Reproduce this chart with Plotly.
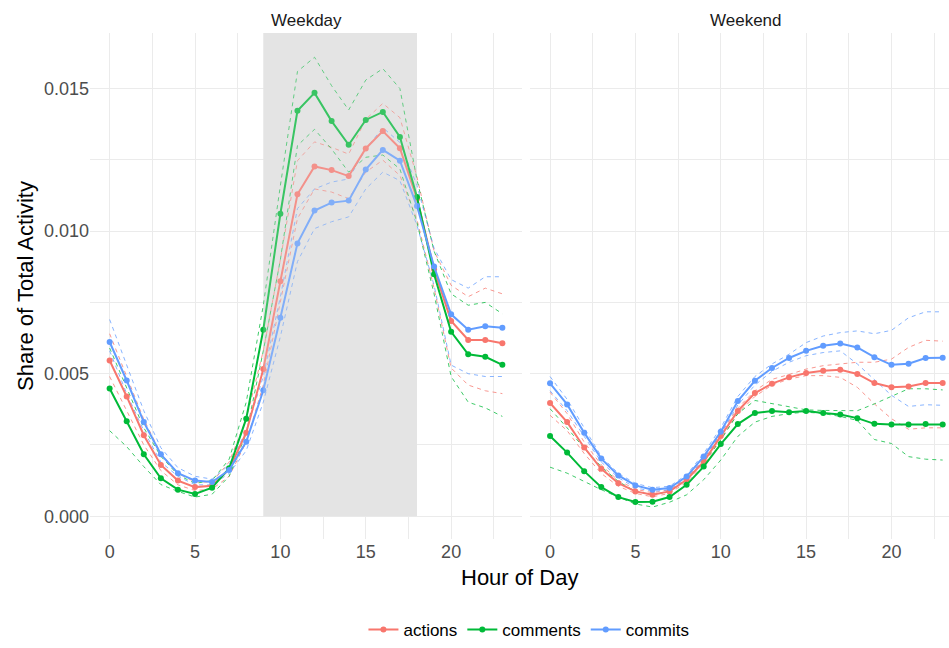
import plotly.graph_objects as go

HOURS = list(range(24))
SERIES = ["actions", "comments", "commits"]
COLORS = {"actions": "#F8766D", "comments": "#00BA38", "commits": "#619CFF"}
PANELS = ["Weekday", "Weekend"]
X_TICKS = [0, 5, 10, 15, 20]
Y_TICKS = [0.0, 0.005, 0.010, 0.015]
WORK_HOURS = [9, 18]

# ---------------- Weekday ----------------
wd_actions_mean = [0.00546, 0.0042, 0.00284, 0.0018, 0.00125, 0.00102, 0.00107, 0.00165, 0.00293, 0.00516,
                   0.00824, 0.01129, 0.01227, 0.01214, 0.01193, 0.0129, 0.01351, 0.01291, 0.01114, 0.00866,
                   0.00685, 0.00618, 0.00618, 0.00607]
wd_actions_hi = [0.0064, 0.0049, 0.0034, 0.0022, 0.0015, 0.0012, 0.0012, 0.0019, 0.0034, 0.0058,
                 0.0090, 0.01247, 0.01313, 0.01294, 0.0127, 0.01392, 0.01448, 0.01398, 0.0119, 0.0093,
                 0.0081, 0.0077, 0.0080, 0.0078]
wd_actions_lo = [0.0049, 0.0037, 0.0025, 0.0016, 0.0011, 0.0009, 0.00095, 0.0014, 0.0026, 0.0046,
                 0.0075, 0.01044, 0.01148, 0.01137, 0.01114, 0.01207, 0.01249, 0.01195, 0.0104, 0.0080,
                 0.0052, 0.0046, 0.0044, 0.0043]

wd_comments_mean = [0.00448, 0.00333, 0.00217, 0.00133, 0.00093, 0.00078, 0.001, 0.00168, 0.00342, 0.00654,
                    0.01061, 0.01422, 0.01485, 0.01386, 0.01303, 0.0139, 0.01418, 0.0133, 0.0112, 0.00849,
                    0.00647, 0.00568, 0.00559, 0.00531]
wd_comments_hi = [0.0059, 0.0045, 0.0031, 0.0021, 0.00145, 0.00115, 0.00125, 0.0020, 0.0040, 0.0074,
                  0.0116, 0.0156, 0.0161, 0.0151, 0.01425, 0.0153, 0.0157, 0.0150, 0.0118, 0.0093,
                  0.0078, 0.0074, 0.0075, 0.0071]
wd_comments_lo = [0.0030, 0.00244, 0.00174, 0.00111, 0.00087, 0.00067, 0.00077, 0.0014, 0.0029, 0.0058,
                  0.0090, 0.0130, 0.01357, 0.01288, 0.01207, 0.01259, 0.01267, 0.01218, 0.0103, 0.0078,
                  0.0049, 0.0040, 0.0038, 0.0035]

wd_commits_mean = [0.00611, 0.00476, 0.0033, 0.00217, 0.00151, 0.00125, 0.0012, 0.00162, 0.00261, 0.00442,
                   0.00696, 0.00957, 0.01072, 0.011, 0.01107, 0.01216, 0.01285, 0.01247, 0.01088, 0.00876,
                   0.00708, 0.00654, 0.00666, 0.00661]
wd_commits_hi = [0.0069, 0.0053, 0.0037, 0.0024, 0.0017, 0.0014, 0.0013, 0.0018, 0.0030, 0.0049,
                 0.0077, 0.01079, 0.01148, 0.01172, 0.01183, 0.01288, 0.01363, 0.01311, 0.0116, 0.0094,
                 0.0083, 0.0080, 0.0084, 0.0084]
wd_commits_lo = [0.0058, 0.0043, 0.0030, 0.0019, 0.0014, 0.0011, 0.0011, 0.0015, 0.0023, 0.0040,
                 0.0063, 0.00893, 0.01009, 0.01033, 0.0105, 0.01148, 0.01207, 0.01177, 0.0102, 0.0081,
                 0.0053, 0.0050, 0.0049, 0.0049]

# ---------------- Weekend ----------------
we_actions_mean = [0.00397, 0.0033, 0.00241, 0.00166, 0.00116, 0.00087, 0.00075, 0.00087, 0.00128, 0.00191,
                   0.00281, 0.00369, 0.00432, 0.00465, 0.00487, 0.00502, 0.0051, 0.00514, 0.00499, 0.00467,
                   0.00452, 0.00455, 0.00467, 0.00467]
we_actions_hi = [0.00435, 0.0036, 0.0026, 0.0018, 0.00125, 0.00095, 0.00082, 0.00093, 0.00135, 0.0020,
                 0.0029, 0.0038, 0.0044, 0.0048, 0.00497, 0.00516, 0.00528, 0.00534, 0.0054, 0.0054,
                 0.00551, 0.00592, 0.00617, 0.00614]
we_actions_lo = [0.00354, 0.0030, 0.0022, 0.0015, 0.00105, 0.0008, 0.00068, 0.0008, 0.0012, 0.0018,
                 0.0027, 0.0036, 0.0042, 0.0046, 0.00481, 0.00493, 0.00493, 0.00487, 0.00452, 0.00394,
                 0.00342, 0.00305, 0.0031, 0.0031]

we_comments_mean = [0.00281, 0.00223, 0.00158, 0.00102, 0.00067, 0.0005, 0.00051, 0.00067, 0.0011, 0.00174,
                    0.00253, 0.00323, 0.00362, 0.00369, 0.00365, 0.00369, 0.00362, 0.00357, 0.00344, 0.00324,
                    0.00322, 0.00322, 0.00323, 0.00322]
we_comments_hi = [0.00377, 0.0031, 0.00238, 0.00174, 0.00122, 0.00087, 0.00075, 0.00087, 0.00128, 0.00191,
                  0.00267, 0.0036, 0.00406, 0.00395, 0.00383, 0.00373, 0.00371, 0.0037, 0.0037, 0.00394,
                  0.0042, 0.00447, 0.00447, 0.00443]
we_comments_lo = [0.00172, 0.00151, 0.00122, 0.00093, 0.00067, 0.00043, 0.00032, 0.00049, 0.00075, 0.00128,
                  0.00197, 0.0028, 0.0033, 0.0035, 0.0036, 0.00365, 0.0036, 0.0035, 0.00336, 0.00269,
                  0.00255, 0.00209, 0.0020, 0.00197]

we_commits_mean = [0.00466, 0.00392, 0.00293, 0.00202, 0.00143, 0.00108, 0.00093, 0.00099, 0.00139, 0.00209,
                   0.00296, 0.00404, 0.00475, 0.0052, 0.00555, 0.0058, 0.00598, 0.00606, 0.00592, 0.00558,
                   0.00531, 0.00535, 0.00555, 0.00556]
we_commits_hi = [0.0049, 0.0041, 0.0031, 0.0021, 0.0015, 0.00115, 0.0010, 0.00105, 0.00145, 0.0022,
                 0.0031, 0.0042, 0.0049, 0.00534, 0.00568, 0.00609, 0.00632, 0.00644, 0.0065, 0.0064,
                 0.00652, 0.00696, 0.00717, 0.00717]
we_commits_lo = [0.0044, 0.0037, 0.0028, 0.0019, 0.00135, 0.0010, 0.00087, 0.00093, 0.0013, 0.0020,
                 0.0029, 0.0039, 0.0046, 0.00508, 0.0054, 0.00563, 0.00574, 0.0058, 0.00534, 0.00478,
                 0.00424, 0.00385, 0.00391, 0.00389]

DATA = {
    "Weekday": {
        "actions": (wd_actions_mean, wd_actions_lo, wd_actions_hi),
        "comments": (wd_comments_mean, wd_comments_lo, wd_comments_hi),
        "commits": (wd_commits_mean, wd_commits_lo, wd_commits_hi),
    },
    "Weekend": {
        "actions": (we_actions_mean, we_actions_lo, we_actions_hi),
        "comments": (we_comments_mean, we_comments_lo, we_comments_hi),
        "commits": (we_commits_mean, we_commits_lo, we_commits_hi),
    },
}

FONT = "Liberation Sans, Arial, sans-serif"
fig = go.Figure()

axes = {"Weekday": ("x", "y"), "Weekend": ("x2", "y2")}
for panel in PANELS:
    xa, ya = axes[panel]
    # dashed bounds first
    for s in SERIES:
        mean, lo, hi = DATA[panel][s]
        for bound in (hi, lo):
            fig.add_trace(go.Scatter(
                x=HOURS, y=bound, mode="lines", xaxis=xa, yaxis=ya,
                line=dict(color=COLORS[s], width=1, dash="4px,4px"),
                opacity=0.75, showlegend=False, hoverinfo="skip", legendgroup=s))
    for s in SERIES:
        mean, lo, hi = DATA[panel][s]
        fig.add_trace(go.Scatter(
            x=HOURS, y=mean, mode="lines+markers", xaxis=xa, yaxis=ya, name=s,
            line=dict(color=COLORS[s], width=2),
            marker=dict(color=COLORS[s], size=6),
            showlegend=(panel == "Weekday"), legendgroup=s))

# shaded working hours: opaque grey over the grid, plus a light veil over the lines
fig.add_shape(type="rect", xref="x", yref="y", x0=WORK_HOURS[0], x1=WORK_HOURS[1],
              y0=0, y1=0.01695, fillcolor="#E5E5E5", line=dict(width=0), layer="between")
fig.add_shape(type="rect", xref="x", yref="y", x0=WORK_HOURS[0], x1=WORK_HOURS[1],
              y0=0, y1=0.01695, fillcolor="rgba(229,229,229,0.25)", line=dict(width=0),
              layer="above")

YR = [-0.0008, 0.01695]
axis_common = dict(
    showgrid=True, gridcolor="#EBEBEB", gridwidth=1, zeroline=False, showline=False,
    ticks="", tickfont=dict(size=18, color="#4D4D4D", family=FONT),
)
fig.update_layout(
    width=949, height=648,
    margin=dict(l=90, r=0, t=33, b=105),
    plot_bgcolor="white", paper_bgcolor="white",
    font=dict(family=FONT),
    xaxis=dict(domain=[0, 0.5029], range=[-1.15, 24.15], tickvals=X_TICKS, anchor="y",
               minor=dict(dtick=2.5, tick0=0, showgrid=True, gridcolor="#EBEBEB", gridwidth=0.8),
               **axis_common),
    xaxis2=dict(domain=[0.5127, 1], range=[-1.15, 23.37], tickvals=X_TICKS, anchor="y2",
                minor=dict(dtick=2.5, tick0=0, showgrid=True, gridcolor="#EBEBEB", gridwidth=0.8),
                **axis_common),
    yaxis=dict(range=YR, tickvals=Y_TICKS, tickformat=".3f", anchor="x",
               minor=dict(dtick=0.0025, tick0=0, showgrid=True, gridcolor="#EBEBEB", gridwidth=0.8),
               **axis_common),
    yaxis2=dict(range=YR, tickvals=Y_TICKS, showticklabels=False, anchor="x2",
                minor=dict(dtick=0.0025, tick0=0, showgrid=True, gridcolor="#EBEBEB", gridwidth=0.8),
                **axis_common),
    legend=dict(orientation="h", x=0.511, xanchor="center", y=-0.18, yanchor="middle",
                font=dict(size=17, color="#000000", family=FONT), traceorder="normal",
                itemwidth=30, tracegroupgap=0),
    annotations=[
        dict(text="Weekday", x=0.2515, y=1.0255, xref="paper", yref="paper", showarrow=False,
             font=dict(size=17, color="#1A1A1A", family=FONT), xanchor="center", yanchor="middle"),
        dict(text="Weekend", x=0.7637, y=1.0255, xref="paper", yref="paper", showarrow=False,
             font=dict(size=17, color="#1A1A1A", family=FONT), xanchor="center", yanchor="middle"),
        dict(text="Hour of Day", x=0.5, y=-0.0765, xref="paper", yref="paper", showarrow=False,
             font=dict(size=22, color="#000000", family=FONT), xanchor="center", yanchor="middle"),
        dict(text="Share of Total Activity", x=-0.0757, y=0.5, xref="paper", yref="paper",
             showarrow=False, textangle=-90,
             font=dict(size=22, color="#000000", family=FONT), xanchor="center", yanchor="middle"),
    ],
)

fig.write_html("out.html")
